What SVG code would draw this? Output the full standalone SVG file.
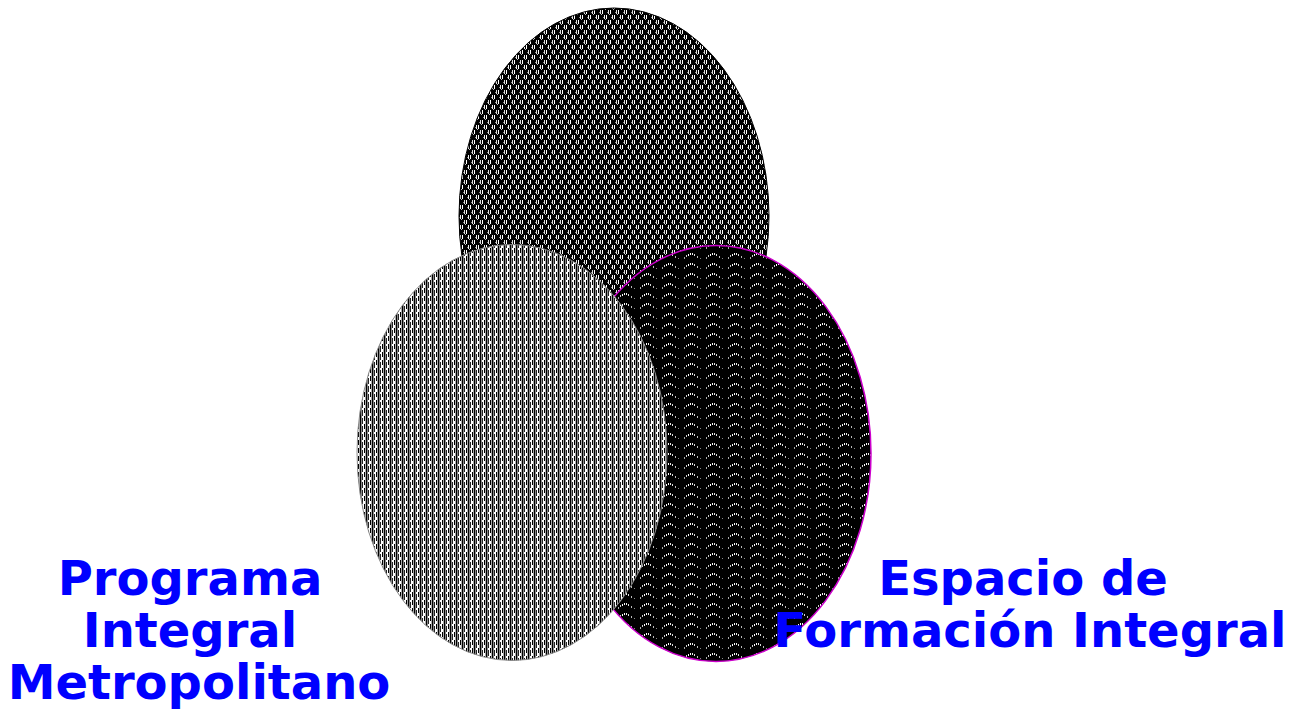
<svg xmlns="http://www.w3.org/2000/svg" width="1293" height="709" viewBox="0 0 1293 709">
<style>
.lbl{font-family:"DejaVu Sans","Verdana",sans-serif;font-weight:bold;font-size:48px;fill:#0000ff;text-anchor:middle}
</style>
<defs>
<pattern id="pTop" width="8" height="10" patternUnits="userSpaceOnUse">
<rect width="8" height="10" fill="#000"/>
<rect x="0" y="0" width="1" height="4" fill="#ddd"/>
<rect x="2" y="0" width="1" height="4" fill="#fff"/>
<rect x="1" y="4" width="1" height="1" fill="#bbb"/>
<rect x="4" y="5" width="1" height="4" fill="#eee"/>
<rect x="6" y="5" width="1" height="4" fill="#fff"/>
<rect x="5" y="9" width="1" height="1" fill="#bbb"/>
<rect x="3" y="7" width="1" height="1" fill="#888"/>
<rect x="7" y="2" width="1" height="1" fill="#888"/>
</pattern>
<pattern id="pLeft" width="6" height="8" patternUnits="userSpaceOnUse">
<rect width="6" height="8" fill="#fff"/>
<rect x="0" y="0" width="1" height="8" fill="#000"/>
<rect x="1" y="0" width="1" height="8" fill="#888"/>
<rect x="2" y="2" width="1" height="6" fill="#222"/>
<rect x="3" y="0" width="1" height="8" fill="#fff"/>
<rect x="4" y="0" width="1" height="5" fill="#000"/>
<rect x="5" y="0" width="1" height="8" fill="#aaa"/>
</pattern>
<pattern id="pRight" width="22" height="10" patternUnits="userSpaceOnUse">
<rect width="22" height="10" fill="#000"/>
<rect x="2" y="7" width="1" height="2" fill="#aaa"/>
<rect x="4" y="5" width="1" height="2" fill="#ccc"/>
<rect x="6" y="4" width="1" height="2" fill="#fff"/>
<rect x="8" y="3" width="1" height="2" fill="#fff"/>
<rect x="10" y="3" width="1" height="2" fill="#eee"/>
<rect x="12" y="4" width="1" height="2" fill="#ddd"/>
<rect x="15" y="6" width="1" height="2" fill="#bbb"/>
<rect x="18" y="8" width="1" height="1" fill="#888"/>
</pattern>
</defs>
<g id="circleTop">
<ellipse cx="614" cy="216" rx="155" ry="208" fill="url(#pTop)" stroke="#000" stroke-width="1"/>
</g>
<g id="circleRight">
<ellipse cx="716" cy="453.5" rx="155" ry="208" fill="url(#pRight)" stroke="#cc00cc" stroke-width="1.5"/>
</g>
<g id="circleLeft">
<ellipse cx="512" cy="452.5" rx="155" ry="208" fill="url(#pLeft)" stroke="#888" stroke-width="1"/>
</g>
<g id="labelLeft">
<text class="lbl" x="190" y="595">Programa</text>
<text class="lbl" x="190" y="647">Integral</text>
<text class="lbl" x="199" y="699">Metropolitano</text>
</g>
<g id="labelRight">
<text class="lbl" x="1023" y="595">Espacio de</text>
<text class="lbl" x="1030" y="647">Formación Integral</text>
</g>
<g id="connectors"></g>
</svg>
